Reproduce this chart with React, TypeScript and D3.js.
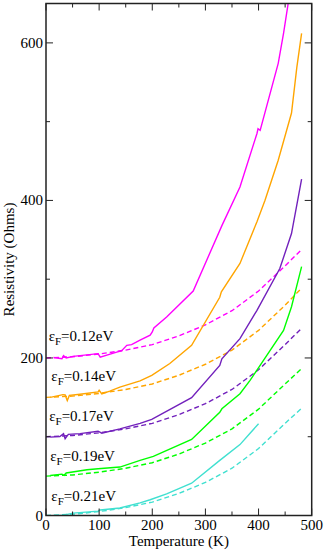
import React from 'react';
import * as d3 from 'd3';

// solid curves (computed resistivity)
const magentaT = [14, 30, 33, 38, 51, 98, 102, 133, 142, 152, 161, 177, 196, 200, 203, 227, 277, 331, 365, 397, 399, 403, 437, 447, 458];
const magentaR = [200.5, 199, 203, 200, 202, 205.5, 201, 207.5, 209, 216, 217, 222.5, 229, 233, 238, 252, 285, 368, 417, 485, 491, 489, 574, 612, 660];

const orangeT = [8, 32, 36, 40, 44, 64, 98, 100, 105, 120, 139, 177, 199, 233, 274, 327, 330, 365, 397, 412, 437, 462, 472, 481];
const orangeR = [150, 153.5, 153, 146, 152.5, 154, 157, 159, 154.5, 158, 163, 171, 178, 193, 216, 277, 284, 320, 373, 400, 451, 511, 569, 612];

const purpleT = [8, 26, 33, 36, 42, 64, 98, 105, 139, 177, 199, 274, 327, 331, 365, 397, 440, 462, 481];
const purpleR = [99.5, 100.3, 103.8, 97.5, 103, 104, 107, 104.5, 110, 117, 122, 149.5, 190.5, 199, 224.5, 260.5, 313.5, 358, 427];

const greenT = [8, 30, 34, 38, 77, 98, 139, 177, 202, 274, 327, 331, 365, 384, 447, 462, 481];
const greenR = [50.8, 52.5, 51, 54, 58, 59.3, 61.5, 70, 75, 96.5, 131, 135.5, 154.6, 171.5, 235, 265, 316];

const cyanT = [14, 33, 51, 98, 102, 139, 177, 196, 227, 274, 327, 365, 384, 400];
const cyanR = [0, 0.5, 3, 5.5, 7, 9.5, 16, 20, 27.5, 41, 70, 90, 104.5, 116.5];

// dashed curves (model)
const dashT = [0, 50, 100, 150, 200, 250, 300, 350, 400, 450, 480];
const magentaDash = [200, 201.5, 205, 210, 217, 228, 242, 260, 285, 317, 337];
const orangeDash = [150, 151.5, 155, 160, 167, 178, 192, 210, 235, 267, 288];
const purpleDash = [100, 101.5, 105, 110, 117, 128, 142, 160, 185, 217, 237];
const greenDash = [50, 51.5, 55, 60, 67, 78, 92, 110, 135, 167, 186];
const cyanDash = [0, 1.5, 5, 10, 17, 28, 42, 60, 85, 117, 135.5];

const labels = ['0.12', '0.14', '0.17', '0.19', '0.21'];
const labelT = [5, 10, 6, 8, 10];
const labelR = [221, 171, 120, 69, 18];

const xTicks = [0, 50, 100, 150, 200, 250, 300, 350, 400, 450, 500];
const yTicks = [0, 100, 200, 300, 400, 500, 600];

const series = [
    {color: '#ff00ff', t: magentaT, r: magentaR, d: magentaDash},
    {color: '#ffa500', t: orangeT, r: orangeR, d: orangeDash},
    {color: '#7221bc', t: purpleT, r: purpleR, d: purpleDash},
    {color: '#00ff00', t: greenT, r: greenR, d: greenDash},
    {color: '#40e0d0', t: cyanT, r: cyanR, d: cyanDash},
];

export default function App() {
    const left = 46, right = 311.7, top = 3.5, bottom = 515.5;
    const x = d3.scaleLinear().domain([0, 500]).range([left, right]);
    const y = d3.scaleLinear().domain([0, 650]).range([bottom, top]);

    const line = d3.line<[number, number]>()
        .x(d => x(d[0]))
        .y(d => y(d[1]));

    const font = "'Liberation Serif', 'Times New Roman', serif";

    return (
        <svg width={325} height={552}
             style={{position: 'absolute', left: 0, top: 0, background: '#fff', fontFamily: font}}>
            <defs>
                <clipPath id="plot">
                    <rect x={left} y={top} width={right - left} height={bottom - top}/>
                </clipPath>
            </defs>

            <g clipPath="url(#plot)" fill="none" strokeWidth={1.4}>
                {series.map((s, i) => (
                    <g key={i} stroke={s.color}>
                        <path d={line(dashT.map((t, j) => [t, s.d[j]]) as [number, number][]) || ''}
                              strokeDasharray="5,3"/>
                        <path d={line(s.t.map((t, j) => [t, s.r[j]]) as [number, number][]) || ''}/>
                    </g>
                ))}
            </g>

            {/* ticks, all inward */}
            <g stroke="#222" strokeWidth={1}>
                {xTicks.map(t => {
                    const len = t % 100 === 0 ? 7 : 4;
                    return (
                        <g key={'x' + t}>
                            <line x1={x(t)} x2={x(t)} y1={bottom} y2={bottom - len}/>
                            <line x1={x(t)} x2={x(t)} y1={top} y2={top + len}/>
                        </g>
                    );
                })}
                {yTicks.map(t => {
                    const len = t % 200 === 0 ? 7 : 4;
                    return (
                        <g key={'y' + t}>
                            <line x1={left} x2={left + len} y1={y(t)} y2={y(t)}/>
                            <line x1={right} x2={right - len} y1={y(t)} y2={y(t)}/>
                        </g>
                    );
                })}
            </g>
            <rect x={left} y={top} width={right - left} height={bottom - top}
                  fill="none" stroke="#222" strokeWidth={1.5}/>

            {/* tick labels */}
            <g fontSize={15} fill="#000">
                {xTicks.filter(t => t % 100 === 0).map(t => (
                    <text key={'xl' + t} x={x(t)} y={530} textAnchor="middle">{t}</text>
                ))}
                {yTicks.filter(t => t % 200 === 0).map(t => (
                    <text key={'yl' + t} x={left - 3} y={y(t) + 5} textAnchor="end">{t}</text>
                ))}
            </g>

            <text x={(left + right) / 2} y={546} fontSize={15} textAnchor="middle">Temperature (K)</text>
            <text transform={`translate(14, ${(top + bottom) / 2}) rotate(-90)`} fontSize={15}
                  textAnchor="middle">Resistivity (Ohms)</text>

            {/* series labels */}
            {labels.map((l, i) => (
                <text key={l} x={x(labelT[i])} y={y(labelR[i])} fontSize={15}>
                    ε<tspan fontSize={11} dy={4}>F</tspan><tspan dy={-4}>={l}eV</tspan>
                </text>
            ))}
        </svg>
    );
}
